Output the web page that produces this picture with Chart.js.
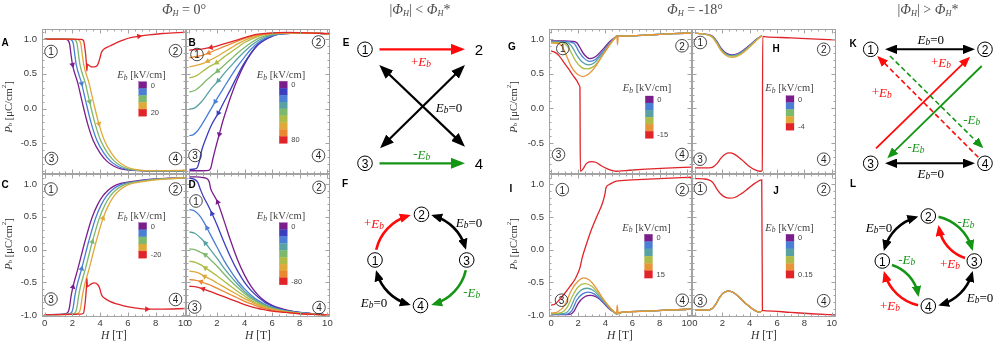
<!DOCTYPE html>
<html>
<head>
<meta charset="utf-8">
<script src="https://cdn.jsdelivr.net/npm/chart.js@4.4.1/dist/chart.umd.min.js"></script>
<style>
  body { margin: 0; width: 996px; height: 343px; overflow: hidden; background: #fff; position: relative; }
  canvas { position: absolute; }
  #overlay { position: absolute; left: 0; top: 0; z-index: 2; }
</style>
</head>
<body>
<svg id="overlay" width="996" height="343"></svg>
<script>
// ---- colours
const cPurple = '#7a1e8c', cDarkBlue = '#3b3dbf', cBlue = '#4a7fd5', cTeal = '#58a2a4', cGreen = '#7db86c';
const cYellowGreen = '#aebc47', cGold = '#dfa93a', cOrange = '#ea8733', cOrangeG = '#e8953a', cRed = '#e0242a';

// ---- ticks
const xTicks = [0, 2, 4, 6, 8, 10];
const xLabels = ['0', '2', '4', '6', '8', '10'];
const xMinor = [0, 0.5, 1, 1.5, 2, 2.5, 3, 3.5, 4, 4.5, 5, 5.5, 6, 6.5, 7, 7.5, 8, 8.5, 9, 9.5, 10];
const yTicksTop = [-0.5, 0, 0.5, 1.0];
const yLabelsTop = ['-0.5', '0.0', '0.5', '1.0'];
const yTicksBottom = [-1.0, -0.5, 0, 0.5, 1.0];
const yLabelsBottom = ['-1.0', '-0.5', '0.0', '0.5', '1.0'];
const yMinor = [-1, -0.9, -0.8, -0.7, -0.6, -0.5, -0.4, -0.3, -0.2, -0.1, 0, 0.1, 0.2, 0.3, 0.4, 0.5, 0.6, 0.7, 0.8, 0.9, 1.0, 1.1];

// ---- panel A  (Phi_H = 0, Eb = 0..20)  [H, Pb]
const aPurple = [[0,1.0],[1.0,1.0],[1.5,0.995],[1.7,0.98],[1.8,0.93],[1.9,0.78],[2.01,0.63],[2.4,0.36],[2.7,0.1],[3.1,-0.22],[3.5,-0.46],[4.0,-0.64],[4.5,-0.76],[5.0,-0.83],[5.5,-0.87],[6.0,-0.885],[7.0,-0.895],[8.0,-0.9],[10.2,-0.9]];
const aBlue = [[0,1.0],[1.27,1.0],[1.77,0.995],[1.97,0.98],[2.07,0.93],[2.17,0.78],[2.28,0.63],[2.67,0.36],[2.97,0.1],[3.37,-0.22],[3.77,-0.46],[4.27,-0.64],[4.77,-0.76],[5.27,-0.83],[5.77,-0.87],[6.27,-0.885],[7.27,-0.895],[8.27,-0.9],[10.2,-0.9]];
const aGreen = [[0,1.0],[1.54,1.0],[2.04,0.995],[2.24,0.98],[2.34,0.93],[2.44,0.78],[2.55,0.63],[2.94,0.36],[3.24,0.1],[3.64,-0.22],[4.04,-0.46],[4.54,-0.64],[5.04,-0.76],[5.54,-0.83],[6.04,-0.87],[6.54,-0.885],[7.54,-0.895],[8.54,-0.897],[10.2,-0.895]];
const aGold = [[0,1.0],[1.81,1.0],[2.31,0.995],[2.51,0.98],[2.61,0.93],[2.71,0.78],[2.82,0.63],[3.21,0.36],[3.51,0.1],[3.91,-0.22],[4.31,-0.46],[4.81,-0.64],[5.31,-0.76],[5.81,-0.83],[6.31,-0.87],[6.81,-0.885],[7.81,-0.893],[8.81,-0.892],[10.2,-0.888]];
const aRed = [[0,1.0],[2.0,1.0],[2.6,0.995],[2.8,0.98],[2.9,0.87],[2.97,0.75],[3.02,0.62],[3.05,0.54],[3.08,0.64],[3.2,0.62],[3.4,0.6],[3.6,0.6],[3.8,0.62],[3.95,0.7],[4.1,0.81],[4.3,0.86],[4.7,0.9],[5.2,0.95],[5.7,0.99],[6.2,1.02],[6.8,1.04],[7.5,1.06],[8.5,1.08],[10.2,1.1]];

// ---- panel B  (Eb = 0..80)
const bPurple = [[0,-0.895],[1.0,-0.895],[1.4,-0.89],[1.55,-0.86],[1.7,-0.73],[1.9,-0.57],[2.17,-0.37],[2.4,-0.2],[2.7,-0.01],[3.0,0.17],[3.5,0.43],[4.0,0.64],[4.5,0.8],[5.0,0.92],[5.5,0.99],[6.0,1.04],[6.5,1.07],[7.0,1.08],[8.0,1.09],[9.0,1.085],[10.2,1.075]];
const bDarkBlue = [[0,-0.875],[0.4,-0.87],[0.6,-0.84],[0.75,-0.74],[0.9,-0.6],[1.2,-0.43],[1.57,-0.25],[2.1,-0.065],[2.5,0.09],[3.0,0.28],[3.5,0.48],[4.0,0.66],[4.5,0.81],[5.0,0.93],[5.5,1.0],[6.0,1.045],[6.5,1.07],[7.0,1.08],[8.0,1.09],[9.0,1.085],[10.2,1.075]];
const bBlue = [[0,-0.39],[0.3,-0.375],[0.6,-0.32],[1.0,-0.2],[1.5,-0.03],[1.88,0.1],[2.5,0.3],[3.0,0.46],[3.5,0.61],[4.0,0.74],[4.5,0.86],[5.0,0.95],[5.5,1.01],[6.0,1.05],[6.5,1.07],[7.0,1.08],[8.0,1.09],[9.0,1.085],[10.2,1.075]];
const bTeal = [[0,-0.01],[0.4,0.01],[0.8,0.08],[1.2,0.18],[1.6,0.29],[2.1,0.4],[2.5,0.5],[3.0,0.61],[3.5,0.72],[4.0,0.82],[4.5,0.91],[5.0,0.98],[5.5,1.03],[6.0,1.06],[6.5,1.075],[7.0,1.085],[8.0,1.09],[9.0,1.085],[10.2,1.075]];
const bGreen = [[0,0.24],[0.4,0.26],[0.8,0.32],[1.2,0.4],[1.6,0.47],[2.05,0.54],[2.5,0.62],[3.0,0.71],[3.5,0.8],[4.0,0.88],[4.5,0.95],[5.0,1.01],[5.5,1.045],[6.0,1.07],[6.5,1.08],[7.0,1.085],[8.0,1.09],[9.0,1.085],[10.2,1.075]];
const bYellowGreen = [[0,0.44],[0.5,0.47],[1.0,0.54],[1.5,0.61],[1.98,0.66],[2.5,0.74],[3.0,0.81],[3.5,0.88],[4.0,0.95],[4.5,1.0],[5.0,1.04],[5.5,1.065],[6.0,1.078],[7.0,1.087],[8.0,1.09],[9.0,1.085],[10.2,1.075]];
const bGold = [[0,0.6],[0.5,0.62],[1.0,0.65],[1.33,0.68],[2.0,0.75],[2.5,0.81],[3.0,0.87],[3.5,0.93],[4.0,0.98],[4.5,1.02],[5.0,1.05],[5.5,1.07],[6.0,1.08],[7.0,1.088],[8.0,1.09],[9.0,1.085],[10.2,1.075]];
const bOrange = [[0,0.73],[0.5,0.75],[1.0,0.77],[1.4,0.8],[2.0,0.85],[2.5,0.89],[3.0,0.93],[3.5,0.97],[4.0,1.01],[4.5,1.04],[5.0,1.06],[5.5,1.075],[6.0,1.085],[7.0,1.09],[8.0,1.09],[9.0,1.085],[10.2,1.075]];
const bRed = [[0,0.84],[0.5,0.85],[1.0,0.86],[1.57,0.88],[2.0,0.9],[2.5,0.93],[3.0,0.96],[3.5,0.99],[4.0,1.02],[4.5,1.05],[5.0,1.07],[5.5,1.08],[6.0,1.09],[7.0,1.095],[8.0,1.093],[9.0,1.087],[10.2,1.077]];

// ---- panel C  (Eb = 0..-20)
const cPurpleC = [[0,-0.995],[1.0,-0.99],[1.5,-0.98],[1.7,-0.95],[1.8,-0.87],[1.9,-0.72],[2.04,-0.57],[2.4,-0.29],[2.9,0.12],[3.4,0.48],[3.8,0.68],[4.2,0.82],[4.6,0.91],[5.0,0.97],[5.5,1.01],[6.0,1.03],[7.0,1.06],[8.0,1.08],[9.0,1.09],[10.2,1.1]];
const cBlueC = [[0,-0.995],[1.27,-0.99],[1.77,-0.98],[1.97,-0.95],[2.07,-0.87],[2.17,-0.72],[2.31,-0.57],[2.67,-0.29],[3.17,0.12],[3.67,0.48],[4.07,0.68],[4.47,0.82],[4.87,0.91],[5.27,0.97],[5.77,1.01],[6.27,1.03],[7.27,1.06],[8.27,1.08],[9.27,1.09],[10.2,1.1]];
const cGreenC = [[0,-0.995],[1.54,-0.99],[2.04,-0.98],[2.24,-0.95],[2.34,-0.87],[2.44,-0.72],[2.58,-0.57],[2.94,-0.29],[3.44,0.12],[3.94,0.48],[4.34,0.68],[4.74,0.82],[5.14,0.91],[5.54,0.97],[6.04,1.01],[6.54,1.03],[7.54,1.06],[8.54,1.08],[9.54,1.09],[10.2,1.1]];
const cGoldC = [[0,-0.995],[1.81,-0.99],[2.31,-0.98],[2.51,-0.95],[2.61,-0.87],[2.71,-0.72],[2.85,-0.57],[3.21,-0.29],[3.71,0.12],[4.21,0.48],[4.61,0.68],[5.01,0.82],[5.41,0.91],[5.81,0.97],[6.31,1.01],[6.81,1.03],[7.81,1.06],[8.81,1.08],[10.2,1.1]];
const cRedC = [[0,-0.995],[2.0,-0.99],[2.6,-0.985],[2.8,-0.97],[2.9,-0.85],[2.97,-0.7],[3.02,-0.55],[3.05,-0.44],[3.08,-0.57],[3.2,-0.55],[3.4,-0.52],[3.6,-0.51],[3.8,-0.53],[3.95,-0.58],[4.1,-0.69],[4.3,-0.74],[4.7,-0.79],[5.2,-0.83],[5.7,-0.86],[6.5,-0.89],[7.37,-0.91],[8.5,-0.91],[10.2,-0.9]];

// ---- panel D  (Eb = 0..-80)
const dPurple = [[0,1.11],[0.5,1.11],[1.0,1.1],[1.3,1.08],[1.45,1.03],[1.55,0.93],[1.7,0.86],[2.05,0.725],[2.5,0.45],[3.0,0.13],[3.5,-0.16],[4.0,-0.39],[4.5,-0.57],[5.0,-0.7],[5.5,-0.79],[6.0,-0.85],[6.5,-0.89],[7.0,-0.92],[8.0,-0.96],[9.0,-0.98],[10.2,-1.0]];
const dDarkBlue = [[0,1.09],[0.3,1.08],[0.6,1.03],[0.8,0.92],[1.0,0.82],[1.3,0.7],[1.64,0.55],[2.0,0.38],[2.5,0.12],[3.0,-0.12],[3.5,-0.33],[4.0,-0.5],[4.5,-0.63],[5.0,-0.73],[5.5,-0.81],[6.0,-0.86],[6.5,-0.9],[7.0,-0.93],[8.0,-0.96],[9.0,-0.98],[10.2,-1.0]];
const dBlue = [[0,0.61],[0.3,0.6],[0.7,0.53],[1.0,0.44],[1.28,0.33],[1.7,0.16],[2.0,0.04],[2.5,-0.16],[3.0,-0.33],[3.5,-0.48],[4.0,-0.6],[4.5,-0.7],[5.0,-0.78],[5.5,-0.84],[6.0,-0.88],[6.5,-0.91],[7.0,-0.935],[8.0,-0.965],[9.0,-0.98],[10.2,-1.0]];
const dTeal = [[0,0.27],[0.4,0.25],[0.8,0.18],[1.16,0.1],[1.6,-0.02],[2.0,-0.13],[2.5,-0.28],[3.0,-0.41],[3.5,-0.53],[4.0,-0.64],[4.5,-0.73],[5.0,-0.8],[5.5,-0.85],[6.0,-0.89],[6.5,-0.92],[7.0,-0.94],[8.0,-0.97],[9.0,-0.985],[10.2,-1.0]];
const dGreen = [[0,0.01],[0.4,0.0],[0.8,-0.04],[1.16,-0.08],[1.6,-0.17],[2.0,-0.25],[2.5,-0.37],[3.0,-0.48],[3.5,-0.58],[4.0,-0.67],[4.5,-0.75],[5.0,-0.81],[5.5,-0.86],[6.0,-0.9],[6.5,-0.925],[7.0,-0.945],[8.0,-0.97],[9.0,-0.985],[10.2,-1.0]];
const dYellowGreen = [[0,-0.18],[0.4,-0.19],[0.8,-0.23],[1.16,-0.28],[1.6,-0.34],[2.0,-0.4],[2.5,-0.48],[3.0,-0.56],[3.5,-0.64],[4.0,-0.71],[4.5,-0.78],[5.0,-0.83],[5.5,-0.875],[6.0,-0.905],[6.5,-0.93],[7.0,-0.95],[8.0,-0.975],[9.0,-0.99],[10.2,-1.0]];
const dGold = [[0,-0.33],[0.4,-0.34],[0.8,-0.37],[1.1,-0.41],[1.6,-0.46],[2.0,-0.51],[2.5,-0.57],[3.0,-0.63],[3.5,-0.69],[4.0,-0.75],[4.5,-0.8],[5.0,-0.85],[5.5,-0.885],[6.0,-0.915],[6.5,-0.935],[7.0,-0.955],[8.0,-0.975],[9.0,-0.99],[10.2,-1.0]];
const dOrange = [[0,-0.46],[0.4,-0.465],[0.85,-0.49],[1.2,-0.52],[1.6,-0.55],[2.0,-0.59],[2.5,-0.64],[3.0,-0.69],[3.5,-0.74],[4.0,-0.79],[4.5,-0.83],[5.0,-0.87],[5.5,-0.9],[6.0,-0.925],[6.5,-0.945],[7.0,-0.96],[8.0,-0.98],[9.0,-0.99],[10.2,-1.0]];
const dRed = [[0,-0.56],[0.4,-0.565],[1.0,-0.6],[1.5,-0.64],[2.0,-0.68],[2.5,-0.72],[3.0,-0.76],[3.5,-0.8],[4.0,-0.84],[4.58,-0.88],[5.0,-0.9],[5.5,-0.92],[6.0,-0.94],[7.0,-0.96],[8.0,-0.98],[9.0,-0.99],[10.2,-1.0]];

// ---- panel G  (Phi_H = -18, Eb = 0..-15)
const gPurple = [[0,0.975],[1.0,0.975],[1.6,0.97],[1.9,0.95],[2.1,0.89],[2.4,0.79],[2.85,0.72],[3.3,0.75],[3.8,0.85],[4.3,0.96],[4.7,1.025],[4.85,1.045],[5.2,1.045],[6.0,1.05],[7.0,1.06],[8.0,1.07],[9.0,1.08],[10.4,1.09]];
const gBlue = [[0,0.97],[1.0,0.965],[1.5,0.955],[1.75,0.93],[2.0,0.84],[2.4,0.73],[2.85,0.68],[3.3,0.71],[3.8,0.82],[4.3,0.94],[4.7,1.02],[4.85,1.045],[5.2,1.045],[6.0,1.05],[7.0,1.06],[8.0,1.07],[9.0,1.08],[10.4,1.09]];
const gTeal = [[0,0.96],[1.0,0.955],[1.3,0.94],[1.55,0.89],[1.9,0.77],[2.3,0.67],[2.75,0.63],[3.2,0.66],[3.7,0.77],[4.2,0.9],[4.7,1.02],[4.85,1.045],[5.2,1.045],[6.0,1.05],[7.0,1.06],[8.0,1.07],[9.0,1.08],[10.4,1.09]];
const gYellowGreen = [[0,0.955],[0.8,0.95],[1.1,0.92],[1.4,0.84],[1.8,0.69],[2.2,0.6],[2.6,0.57],[3.1,0.6],[3.6,0.71],[4.2,0.88],[4.7,1.015],[4.85,1.045],[5.2,1.045],[6.0,1.05],[7.0,1.06],[8.0,1.07],[9.0,1.08],[10.4,1.09]];
const gOrange = [[0,0.945],[0.5,0.94],[0.8,0.9],[1.1,0.78],[1.5,0.6],[1.9,0.5],[2.36,0.46],[2.8,0.5],[3.3,0.61],[3.8,0.77],[4.3,0.92],[4.7,1.01],[4.85,1.045],[4.9,0.92],[4.95,1.04],[5.2,1.045],[6.0,1.05],[7.0,1.06],[8.0,1.07],[9.0,1.08],[10.4,1.09]];
const gRed = [[0,0.83],[0.3,0.81],[0.6,0.76],[1.0,0.65],[1.3,0.57],[1.6,0.48],[1.9,0.4],[2.1,0.33],[2.13,0.3],[2.16,-0.91],[2.35,-0.88],[2.6,-0.8],[2.95,-0.77],[3.3,-0.78],[3.7,-0.83],[4.2,-0.88],[4.6,-0.905],[4.8,-0.91],[5.5,-0.9],[7.0,-0.88],[8.5,-0.865],[10.4,-0.85]];

// ---- panel H  (Eb = 0..-4)
const hPurple = [[0,1.086],[0.5,1.08],[1.0,1.065],[1.3,1.04],[1.6,0.97],[1.9,0.87],[2.3,0.795],[2.7,0.775],[3.1,0.79],[3.6,0.85],[4.1,0.93],[4.5,1.0],[4.88,1.05]];
const hBlue = [[0,1.086],[0.5,1.08],[1.0,1.063],[1.3,1.035],[1.6,0.96],[1.9,0.86],[2.3,0.785],[2.7,0.765],[3.1,0.78],[3.6,0.84],[4.1,0.925],[4.5,0.995],[4.88,1.05]];
const hGreen = [[0,1.086],[0.5,1.08],[1.0,1.061],[1.3,1.03],[1.6,0.95],[1.9,0.85],[2.3,0.775],[2.7,0.755],[3.1,0.77],[3.6,0.83],[4.1,0.915],[4.5,0.99],[4.88,1.05]];
const hGold = [[0,1.086],[0.5,1.08],[1.0,1.058],[1.3,1.02],[1.6,0.935],[1.9,0.835],[2.3,0.76],[2.7,0.738],[3.1,0.755],[3.6,0.815],[4.1,0.905],[4.5,0.985],[4.88,1.05]];
const hRed = [[0,-0.86],[1.0,-0.86],[1.3,-0.85],[1.6,-0.8],[1.9,-0.72],[2.2,-0.665],[2.5,-0.645],[2.9,-0.665],[3.4,-0.74],[3.9,-0.83],[4.4,-0.89],[4.75,-0.91],[4.92,-0.9],[4.95,1.04],[5.2,1.035],[7.0,1.02],[8.5,1.005],[10.4,0.99]];

// ---- panel I  (Eb = 0..15)
const iPurple = [[0,-0.995],[1.4,-0.99],[1.7,-0.94],[2.0,-0.82],[2.4,-0.73],[2.85,-0.7],[3.3,-0.72],[3.8,-0.8],[4.2,-0.89],[4.6,-0.95],[4.82,-0.98],[5.3,-0.955],[7.0,-0.94],[8.5,-0.925],[10.4,-0.91]];
const iBlue = [[0,-0.99],[1.2,-0.985],[1.55,-0.93],[1.9,-0.77],[2.3,-0.68],[2.75,-0.65],[3.2,-0.68],[3.7,-0.77],[4.2,-0.88],[4.6,-0.95],[4.82,-0.98],[5.3,-0.955],[7.0,-0.94],[8.5,-0.925],[10.4,-0.91]];
const iTeal = [[0,-0.985],[1.0,-0.975],[1.4,-0.9],[1.8,-0.72],[2.2,-0.62],[2.65,-0.59],[3.1,-0.62],[3.6,-0.72],[4.1,-0.84],[4.5,-0.93],[4.82,-0.98],[5.3,-0.955],[7.0,-0.94],[8.5,-0.925],[10.4,-0.91]];
const iYellowGreen = [[0,-0.98],[0.8,-0.96],[1.2,-0.88],[1.6,-0.7],[2.0,-0.57],[2.5,-0.52],[3.0,-0.56],[3.5,-0.67],[4.0,-0.8],[4.5,-0.92],[4.82,-0.98],[5.3,-0.955],[7.0,-0.94],[8.5,-0.925],[10.4,-0.91]];
const iOrange = [[0,-0.97],[0.5,-0.95],[1.0,-0.85],[1.5,-0.62],[2.0,-0.48],[2.4,-0.43],[2.8,-0.46],[3.3,-0.58],[3.8,-0.74],[4.3,-0.88],[4.7,-0.96],[4.82,-0.98],[4.88,-0.85],[4.94,-0.96],[5.3,-0.955],[7.0,-0.94],[8.5,-0.925],[10.4,-0.91]];
const iRed = [[0,-0.85],[0.3,-0.83],[0.6,-0.77],[1.0,-0.67],[1.4,-0.56],[1.8,-0.44],[2.14,-0.27],[2.3,-0.12],[2.6,0.08],[3.0,0.32],[3.4,0.52],[3.8,0.72],[3.98,0.86],[4.05,0.95],[4.3,1.0],[4.8,1.05],[6.0,1.07],[8.0,1.09],[10.4,1.11]];

// ---- panel J  (Eb = 0..0.15)
const jLow = [[0,-0.92],[0.8,-0.925],[1.2,-0.91],[1.5,-0.84],[1.8,-0.73],[2.1,-0.66],[2.4,-0.635],[2.8,-0.655],[3.3,-0.74],[3.8,-0.84],[4.3,-0.92],[4.7,-0.955],[4.9,-0.94]];
const jRed = [[0,1.09],[0.6,1.085],[1.0,1.07],[1.3,1.03],[1.6,0.93],[1.9,0.85],[2.2,0.805],[2.5,0.79],[2.9,0.8],[3.4,0.86],[3.9,0.94],[4.4,1.02],[4.88,1.07],[4.93,-0.93],[5.2,-0.935],[7.0,-0.96],[8.5,-0.98],[10.4,-1.0]];

// ---- legend colour bars
const legendA = [cPurple, cBlue, cGreen, cGold, cRed];
const legendB = [cPurple, cDarkBlue, cBlue, cTeal, cGreen, cYellowGreen, cGold, cOrange, cRed];
const legendG = [cPurple, cBlue, cTeal, cYellowGreen, cOrangeG, cRed];

const panels = [
  { plot: [42, 29, 186, 174], x: [-0.19, 10.19], y: [-0.942, 1.145], yAxis: true, xAxis: false, yt: yTicksTop, yl: yLabelsTop,
    series: [[aPurple, cPurple, [2.01], 1], [aBlue, cBlue, [2.67], 1], [aGreen, cGreen, [3.24], 1], [aGold, cGold, [3.91], 1], [aRed, cRed, [6.8], 1]] },
  { plot: [186, 29, 330, 174], x: [-0.24, 10.19], y: [-0.942, 1.145], yAxis: false, xAxis: false,
    series: [[bPurple, cPurple, [2.17], -1], [bDarkBlue, cDarkBlue, [2.1], -1], [bBlue, cBlue, [1.88], -1], [bTeal, cTeal, [2.1], -1], [bGreen, cGreen, [2.05], -1],
             [bYellowGreen, cYellowGreen, [1.98], -1], [bGold, cGold, [1.33], -1], [bOrange, cOrange, [1.4], -1], [bRed, cRed, [1.57], -1]] },
  { plot: [42, 174, 186, 317], x: [-0.19, 10.19], y: [-1.03, 1.155], yAxis: true, xAxis: true, yt: yTicksBottom, yl: yLabelsBottom,
    series: [[cPurpleC, cPurple, [2.04], 1], [cBlueC, cBlue, [2.67], 1], [cGreenC, cGreen, [3.44], 1], [cGoldC, cGold, [4.21], 1], [cRedC, cRed, [7.37], 1]] },
  { plot: [186, 174, 330, 317], x: [-0.24, 10.19], y: [-1.03, 1.155], yAxis: false, xAxis: true,
    series: [[dPurple, cPurple, [2.05], -1], [dDarkBlue, cDarkBlue, [1.64], -1], [dBlue, cBlue, [1.28], -1], [dTeal, cTeal, [1.16], -1], [dGreen, cGreen, [1.16], -1],
             [dYellowGreen, cYellowGreen, [1.16], -1], [dGold, cGold, [1.1], -1], [dOrange, cOrange, [0.85], -1], [dRed, cRed, [1.0], -1]] },
  { plot: [549, 29, 692, 174], x: [-0.15, 10.39], y: [-0.95, 1.148], yAxis: true, xAxis: false, yt: yTicksTop, yl: yLabelsTop,
    series: [[gPurple, cPurple], [gBlue, cBlue], [gTeal, cTeal], [gYellowGreen, cYellowGreen], [gOrange, cOrangeG], [gRed, cRed]] },
  { plot: [692, 29, 836, 174], x: [-0.22, 10.31], y: [-0.95, 1.148], yAxis: false, xAxis: false,
    series: [[hPurple, cPurple], [hBlue, cBlue], [hGreen, cGreen], [hGold, cGold], [hRed, cRed]] },
  { plot: [549, 174, 692, 317], x: [-0.15, 10.39], y: [-1.03, 1.16], yAxis: true, xAxis: true, yt: yTicksBottom, yl: yLabelsBottom,
    series: [[iPurple, cPurple], [iBlue, cBlue], [iTeal, cTeal], [iYellowGreen, cYellowGreen], [iOrange, cOrangeG], [iRed, cRed]] },
  { plot: [692, 174, 836, 317], x: [-0.22, 10.31], y: [-1.03, 1.16], yAxis: false, xAxis: true,
    series: [[jLow, cPurple], [jLow, cBlue], [jLow, cTeal], [jLow, cYellowGreen], [jLow, cOrangeG], [jRed, cRed]] }
];

// frame with inward ticks, like the original plots
const framePlugin = {
  id: 'frame',
  afterDatasetsDraw(chart) {
    const { ctx, chartArea: a, scales: { x, y } } = chart;
    const L = Math.round(a.left) + 0.5, R = Math.round(a.right) - 0.5, T = Math.round(a.top) + 0.5, B = Math.round(a.bottom) - 0.5;
    ctx.save();
    ctx.strokeStyle = '#a3a3a3';
    ctx.lineWidth = 1;
    ctx.strokeRect(L, T, R - L, B - T);
    ctx.beginPath();
    xMinor.forEach(v => {
      const p = Math.round(x.getPixelForValue(v)) + 0.5;
      const len = xTicks.includes(v) ? 4 : 2;
      ctx.moveTo(p, B); ctx.lineTo(p, B - len);
      ctx.moveTo(p, T); ctx.lineTo(p, T + len);
    });
    yMinor.forEach(v => {
      if (v < y.min || v > y.max) return;
      const p = Math.round(y.getPixelForValue(v)) + 0.5;
      const len = Math.abs(v * 2 - Math.round(v * 2)) < 1e-6 ? 4 : 2;
      ctx.moveTo(L, p); ctx.lineTo(L + len, p);
      ctx.moveTo(R, p); ctx.lineTo(R - len, p);
    });
    ctx.stroke();
    ctx.restore();
  }
};

function arrowAngle(c, dir) {
  const ch = c.chart, d = c.dataset.data, i = c.dataIndex;
  if (!ch.scales || !ch.scales.x) return 0;
  const p = d[Math.max(i - 1, 0)], q = d[Math.min(i + 1, d.length - 1)];
  const dx = (ch.scales.x.getPixelForValue(q[0]) - ch.scales.x.getPixelForValue(p[0])) * dir;
  const dy = (ch.scales.y.getPixelForValue(q[1]) - ch.scales.y.getPixelForValue(p[1])) * dir;
  return Math.atan2(dx, -dy) * 180 / Math.PI;
}

const tickFont = { family: "'Liberation Sans', Arial, sans-serif", size: 9.5 };

panels.forEach(p => {
  const padL = 4, padR = 8, padT = 4;
  const yw = p.yAxis ? 40 : 0, xh = p.xAxis ? 22 : 0;
  const [l, t, r, b] = p.plot;
  const cv = document.createElement('canvas');
  cv.width = padL + yw + (r - l) + padR;
  cv.height = padT + (b - t) + xh;
  cv.style.left = (l - yw - padL) + 'px';
  cv.style.top = (t - padT) + 'px';
  document.body.insertBefore(cv, document.getElementById('overlay'));

  const n = p.series.length;
  const datasets = p.series.map((s, i) => {
    const arrows = s[2] || [], dir = s[3] || 1;
    return {
      data: s[0], borderColor: s[1], backgroundColor: s[1], borderWidth: 1.3,
      cubicInterpolationMode: 'monotone', fill: false, order: n - i,
      pointStyle: 'triangle', pointBorderWidth: 0,
      pointRadius: c => (c.raw && arrows.includes(c.raw[0])) ? 3.3 : 0,
      pointRotation: c => arrowAngle(c, dir)
    };
  });

  new Chart(cv, {
    type: 'line',
    data: { datasets },
    options: {
      responsive: false, animation: false, devicePixelRatio: 1, events: [],
      layout: { padding: { left: padL, right: padR, top: padT, bottom: 0 } },
      plugins: { legend: { display: false }, tooltip: { enabled: false } },
      scales: {
        x: {
          type: 'linear', min: p.x[0], max: p.x[1], bounds: 'data', display: p.xAxis,
          grid: { display: false, drawTicks: false }, border: { display: false },
          afterBuildTicks: s => { s.ticks = xTicks.map(v => ({ value: v })); },
          ticks: { callback: (v, i) => xLabels[i], font: tickFont, color: '#3a3a3a', padding: 1, maxRotation: 0, autoSkip: false },
          afterFit: s => { s.height = xh; s.paddingLeft = 0; s.paddingRight = 0; }
        },
        y: {
          type: 'linear', min: p.y[0], max: p.y[1], bounds: 'data', display: p.yAxis,
          grid: { display: false, drawTicks: false }, border: { display: false },
          afterBuildTicks: s => { if (p.yt) s.ticks = p.yt.map(v => ({ value: v })); },
          ticks: { callback: (v, i) => p.yl ? p.yl[i] : '', font: tickFont, color: '#3a3a3a', padding: 5, autoSkip: false },
          afterFit: s => { s.width = yw; s.paddingTop = 0; s.paddingBottom = 0; }
        }
      }
    },
    plugins: [framePlugin]
  });
});

// ---------------- overlay: titles, legends, circled labels, diagrams
const serif = "'Liberation Serif','Times New Roman',serif";
const sans = "'Liberation Sans',Arial,sans-serif";
const dRedC = '#ff0a0a', dGreenC = '#159515';
const out = [];

function text(x, y, body, o = {}) {
  out.push(`<text x="${x}" y="${y}" text-anchor="${o.anchor || 'middle'}" dominant-baseline="central" font-family="${o.font || serif}" font-size="${o.size || 12}" fill="${o.fill || '#000'}"${o.weight ? ` font-weight="${o.weight}"` : ''}${o.rot ? ` transform="rotate(${o.rot} ${x} ${y})"` : ''}>${body}</text>`);
}
function eb(pre, post, size) {
  const d = (size * 0.24).toFixed(1);
  return `${pre}<tspan font-style="italic">E</tspan><tspan font-style="italic" font-size="${(size * 0.72).toFixed(1)}" dy="${d}">b</tspan><tspan dy="-${d}">${post}</tspan>`;
}
function phi(size) {
  const d = (size * 0.25).toFixed(1);
  return `<tspan font-style="italic">Φ</tspan><tspan font-style="italic" font-size="${(size * 0.6).toFixed(1)}" dy="${d}">H</tspan>`;
}
function phiEnd(size) { return `<tspan dy="-${(size * 0.25).toFixed(1)}">`; }

// column headers
text(184, 9, `${phi(14)}${phiEnd(14)} = 0°</tspan>`, { size: 14, fill: '#4a4a4a' });
text(420, 9, `|${phi(14)}${phiEnd(14)}| &lt; </tspan>${phi(14)}${phiEnd(14)}*</tspan>`, { size: 14, fill: '#4a4a4a' });
text(695, 9, `${phi(14)}${phiEnd(14)} = -18°</tspan>`, { size: 14, fill: '#4a4a4a' });
text(928, 9, `|${phi(14)}${phiEnd(14)}| &gt; </tspan>${phi(14)}${phiEnd(14)}*</tspan>`, { size: 14, fill: '#4a4a4a' });

// axis titles
const pbTitle = `<tspan font-style="italic">P</tspan><tspan font-size="7" dy="2">b</tspan><tspan dy="-2"> [μC/cm</tspan><tspan font-size="7" dy="-4">2</tspan><tspan dy="4">]</tspan>`;
[[8, 107], [8, 244], [513, 107], [513, 244]].forEach(([x, y]) => text(x, y, pbTitle, { size: 10.5, rot: -90, fill: '#333' }));
const hTitle = `<tspan font-style="italic">H</tspan> [T]`;
[[114, 335], [258, 335], [620, 335], [764, 335]].forEach(([x, y]) => text(x, y, hTitle, { size: 11.5, fill: '#333' }));

// panel letters
[['A', 5, 42], ['B', 192, 42], ['C', 5, 184], ['D', 192, 184], ['E', 346, 42], ['F', 345, 183], ['G', 512, 46], ['H', 776, 48],
 ['I', 511, 188], ['J', 776, 190], ['K', 853, 43], ['L', 853, 183]].forEach(([s, x, y]) => text(x, y, s, { font: sans, size: 10, weight: 'bold' }));

// circled region numbers inside the plots
const plotMarks = [
  [51, 51.5, 1], [175.5, 50.7, 2], [51.5, 158.5, 3], [175.5, 158.5, 4],
  [197, 54.5, 1], [318.5, 42, 2], [195, 155.5, 3], [318.5, 155.5, 4],
  [51, 189, 1], [175.5, 189, 2], [51, 299, 3], [175.5, 299.5, 4],
  [196, 201, 1], [319, 187.3, 2], [194.7, 307, 3], [319, 307.5, 4],
  [562.8, 48.5, 1], [682, 45.8, 2], [558.5, 154.5, 3], [682, 154.5, 4],
  [700.3, 42.5, 1], [823.7, 49.3, 2], [700, 159.2, 3], [823.7, 159.2, 4],
  [562.3, 189.6, 1], [682.3, 189.6, 2], [561.5, 300.2, 3], [682.3, 300.2, 4],
  [700.3, 188.5, 1], [823.7, 189.4, 2], [700.3, 300.7, 3], [823.7, 300.7, 4]
];
plotMarks.forEach(([x, y, k]) => {
  out.push(`<circle cx="${x}" cy="${y}" r="6.3" fill="none" stroke="#333" stroke-width="0.9"/>`);
  text(x, y + 0.4, String(k), { font: sans, size: 10, fill: '#222' });
});

// colour-bar legends
function legend(tx, ty, sx, sy, colors, bh, top, bottom) {
  text(tx, ty, eb('', ' [kV/cm]', 10.5), { size: 10.5, fill: '#444' });
  colors.forEach((c, i) => out.push(`<rect x="${sx}" y="${(sy + i * bh).toFixed(1)}" width="8" height="${bh}" fill="${c}" stroke="${c}" stroke-width="0.3"/>`));
  text(sx + 12, sy + bh / 2, top, { font: sans, size: 7.5, fill: '#444', anchor: 'start' });
  text(sx + 12, sy + bh * (colors.length - 0.5), bottom, { font: sans, size: 7.5, fill: '#444', anchor: 'start' });
}
legend(141.5, 74, 138.7, 81.7, legendA, 6.9, '0', '20');
legend(281, 74, 279.3, 81.3, legendB, 6.9, '0', '80');
legend(141.5, 215, 138.7, 222.7, legendA, 7.1, '0', '-20');
legend(281, 215, 279.3, 222.7, legendB, 6.9, '0', '-80');
legend(647, 87.3, 645.3, 96, legendG, 7.05, '0', '-15');
legend(789.5, 87.3, 786, 95.7, [cPurple, cBlue, cGreen, cGold, cRed], 6.9, '0', '-4');
legend(646.5, 226.7, 644.5, 234.3, legendG, 7.3, '0', '15');
legend(789.5, 226.7, 786, 234.3, legendG, 7.3, '0', '0.15');

// ---- diagrams
const defs = [];
function marker(id, color, len, wid, inset) {
  defs.push(`<marker id="${id}" viewBox="0 0 ${len} ${wid}" refX="${len - inset}" refY="${wid / 2}" markerWidth="${len}" markerHeight="${wid}" markerUnits="userSpaceOnUse" orient="auto-start-reverse"><path d="M0,0L${len},${wid / 2}L0,${wid}z" fill="${color}"/></marker>`);
}
marker('eR', dRedC, 14, 11, 4); marker('eG', dGreenC, 14, 11, 4); marker('eK', '#000', 14, 11, 4);
marker('kR', dRedC, 11, 9, 3); marker('kG', dGreenC, 11, 9, 3); marker('kK', '#000', 12, 9.5, 3);
marker('fR', dRedC, 11, 9.5, 3); marker('fG', dGreenC, 11, 9.5, 3); marker('fK', '#000', 11, 9.5, 3);

function arrow(x1, y1, x2, y2, color, w, m, both, inset, dash) {
  const dx = x2 - x1, dy = y2 - y1, len = Math.hypot(dx, dy), ux = dx / len, uy = dy / len;
  const sx = both ? x1 + ux * inset : x1, sy = both ? y1 + uy * inset : y1;
  const ex = x2 - ux * inset, ey = y2 - uy * inset;
  out.push(`<path d="M${sx.toFixed(1)},${sy.toFixed(1)}L${ex.toFixed(1)},${ey.toFixed(1)}" stroke="${color}" stroke-width="${w}" fill="none"${dash ? ` stroke-dasharray="${dash}"` : ''} marker-end="url(#${m})"${both ? ` marker-start="url(#${m})"` : ''}/>`);
}
function polar(cx, cy, r, deg) { const t = deg * Math.PI / 180; return [(cx + r * Math.cos(t)).toFixed(1), (cy - r * Math.sin(t)).toFixed(1)]; }
function arc(cx, cy, r, a1, a2, color, m, both) {
  const p = polar(cx, cy, r, a1), q = polar(cx, cy, r, a2);
  out.push(`<path d="M${p}A${r},${r} 0 0 1 ${q}" stroke="${color}" stroke-width="2.6" fill="none" marker-end="url(#${m})"${both ? ` marker-start="url(#${m})"` : ''}/>`);
}
function node(x, y, k, r = 7.3) {
  out.push(`<circle cx="${x}" cy="${y}" r="${r}" fill="#fff" stroke="#000" stroke-width="1"/>`);
  text(x, y + 0.5, String(k), { font: sans, size: 12 });
}

// E
node(365, 49.3, 1); node(365, 163.3, 3);
text(479, 49.8, '2', { font: sans, size: 15 }); text(479, 163.8, '4', { font: sans, size: 15 });
arrow(379.5, 49.3, 465, 49.3, dRedC, 2.2, 'eR', false, 4);
arrow(379.5, 163.3, 465, 163.3, dGreenC, 2.2, 'eG', false, 4);
arrow(379.3, 65, 465, 146.7, '#000', 2.2, 'eK', true, 4);
arrow(380, 148.3, 465, 65, '#000', 2.2, 'eK', true, 4);
text(421, 61, eb('+', '', 13), { size: 13, fill: dRedC });
text(421.7, 153.5, eb('-', '', 13), { size: 13, fill: dGreenC });
text(449, 107, eb('', '=0', 13), { size: 13 });

// F
const fc = [421, 260, 46];
arc(fc[0], fc[1], fc[2], 167, 106.5, dRedC, 'fR', false);
arc(fc[0], fc[1], fc[2], 73.5, 16.5, '#000', 'fK', true);
arc(fc[0], fc[1], fc[2], -13, -73.5, dGreenC, 'fG', false);
arc(fc[0], fc[1], fc[2], 253.5, 196.5, '#000', 'fK', true);
node(421.5, 214.3, 2); node(375, 260, 1); node(466.7, 260, 3); node(420.5, 305.5, 4);
text(374, 222.5, eb('+', '', 13), { size: 13, fill: dRedC });
text(469, 221.5, eb('', '=0', 13), { size: 13 });
text(471.7, 291.5, eb('-', '', 13), { size: 13, fill: dGreenC });
text(374, 301.5, eb('', '=0', 13), { size: 13 });

// K
arrow(885, 49.3, 975, 49.3, '#000', 2, 'kK', true, 3);
arrow(885, 163.3, 975, 163.3, '#000', 2, 'kK', true, 3);
arrow(876, 148.3, 970, 56.7, dRedC, 1.8, 'kR', false, 3);
arrow(981.7, 66, 887.3, 158.3, dGreenC, 1.8, 'kG', false, 3);
arrow(978.3, 157.3, 877.3, 56, dRedC, 1.6, 'kR', false, 3, '5,3');
arrow(890, 56, 983.3, 148.3, dGreenC, 1.6, 'kG', false, 3, '5,3');
node(870.7, 49.3, 1); node(985, 49.3, 2); node(870.7, 163.3, 3); node(985, 163.3, 4);
text(930.8, 39.3, eb('', '=0', 13), { size: 13 });
text(930.8, 172.5, eb('', '=0', 13), { size: 13 });
text(941, 61.5, eb('+', '', 13), { size: 13, fill: dRedC });
text(916, 146.5, eb('-', '', 13), { size: 13, fill: dGreenC });
text(881.7, 91.5, eb('+', '', 13), { size: 13, fill: dRedC });
text(971.7, 119.3, eb('-', '', 13), { size: 13, fill: dGreenC });

// L
const lc = [928.3, 261, 45.5];
arc(lc[0], lc[1], lc[2], 163.5, 106.5, '#000', 'fK', true);
arc(lc[0], lc[1], lc[2], 77, 16.5, dGreenC, 'fG', false);
arc(lc[0], lc[1], lc[2], -16.5, -73.5, '#000', 'fK', true);
arc(lc[0], lc[1], lc[2], 257, 196.5, dRedC, 'fR', false);
out.push(`<path d="M965,258A38,38 0 0 1 939,228" stroke="${dRedC}" stroke-width="2.6" fill="none" marker-end="url(#fR)"/>`);
out.push(`<path d="M892,265A38,38 0 0 1 918,294" stroke="${dGreenC}" stroke-width="2.6" fill="none" marker-end="url(#fG)"/>`);
node(928.3, 216, 2); node(882.3, 261, 1); node(974.3, 261, 3); node(928.3, 306, 4);
text(879, 226.5, eb('', '=0', 13), { size: 13 });
text(966, 221.5, eb('-', '', 13), { size: 13, fill: dGreenC });
text(950, 263.3, eb('+', '', 13), { size: 13, fill: dRedC });
text(906.7, 259.3, eb('-', '', 13), { size: 13, fill: dGreenC });
text(890, 305, eb('+', '', 13), { size: 13, fill: dRedC });
text(980, 296.7, eb('', '=0', 13), { size: 13 });

document.getElementById('overlay').innerHTML = `<defs>${defs.join('')}</defs>` + out.join('');
</script>
</body>
</html>
